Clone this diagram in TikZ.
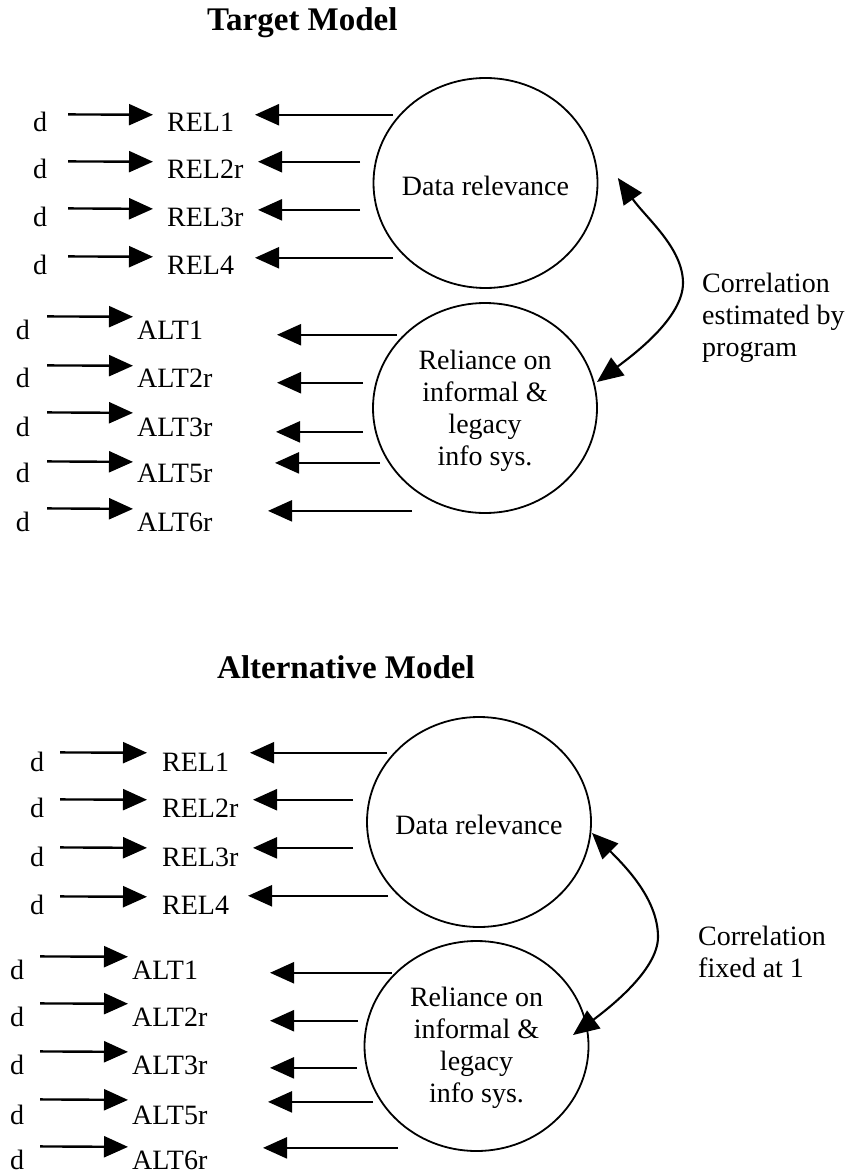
\documentclass[tikz,border=0pt]{standalone}
\usepackage{fontspec}
\setmainfont{Liberation Serif}
\usetikzlibrary{arrows.meta,shapes.geometric}
\begin{document}
\begin{tikzpicture}[x=1pt,y=1pt,
  txt/.style={inner sep=0pt, font=\fontsize{28}{32}\selectfont},
  ttl/.style={inner sep=0pt, anchor=base west, font=\fontsize{33}{38}\selectfont\bfseries},
  load/.style={line width=2.4pt, -{Triangle[length=24pt,width=21pt]}},
  latent/.style={draw, ellipse, line width=1.8pt, inner sep=0pt, minimum width=224pt, minimum height=210pt},
  corr/.style={line width=2.1pt, {Triangle[length=26pt,width=22pt]}-{Triangle[length=26pt,width=22pt]}}]
\useasboundingbox (0,0) rectangle (849,-1174);

% ================= Target model =================
\node[ttl] (titleT) at (207,-31) {Target Model};

\node[latent] (relevT) at (485.5,-183) {};
\node[txt] (relevTt) at ([yshift=-3]relevT.center) {Data relevance};
\node[latent] (legacyT) at (485,-408) {};
\node[txt, align=center] (legacyTt) at ([yshift=-3]legacyT.center) {Reliance on\\informal \&\\legacy\\info sys.};

% relevance indicators
\foreach \i/\yb/\lab/\dl/\dr/\tl/\g in {
  1/-132/REL1/8/8/226/88,
  2/-179/REL2r/8/8/193/91,
  3/-226/REL3r/8/7/193/91,
  4/-274/REL4/8/7/226/88}{
  \node[txt, anchor=base] (dTr\i) at (40,\yb) {d};
  \node[txt, anchor=base west] (vTr\i) at (167,\yb) {\lab};
  \draw[load] ([shift={(21,\dl)}]dTr\i.east) -- ([shift={(-14,\dl)}]vTr\i.west);
  \coordinate (tTr\i) at ([shift={(\tl,\dr)}]vTr\i.west);
  \draw[load] (tTr\i) -- ([shift={(\g,\dr)}]vTr\i.west);
}

% reliance indicators
\foreach \i/\yb/\lab/\dl/\dr/\tl/\g in {
  1/-339/ALT1/13/-5/260/140,
  2/-387/ALT2r/12/-5/226/140,
  3/-436/ALT3r/14/-5/226/139,
  4/-482/ALT5r/11/10/243/138,
  5/-531/ALT6r/13/11/275/131}{
  \node[txt, anchor=base] (dTa\i) at (23,\yb) {d};
  \node[txt, anchor=base west] (vTa\i) at (137,\yb) {\lab};
  \draw[load] ([shift={(17,\dl)}]dTa\i.east) -- ([shift={(-4,\dl)}]vTa\i.west);
  \coordinate (tTa\i) at ([shift={(\tl,\dr)}]vTa\i.west);
  \draw[load] (tTa\i) -- ([shift={(\g,\dr)}]vTa\i.west);
}

% estimated correlation
\coordinate (rT1) at ([shift={(19.5,5)}]relevT.east);
\coordinate (rT2) at ([shift={(112,26)}]legacyT.center);
\draw[corr] (rT1) .. controls (646,-218) and (683,-248) .. (683,-283)
                  .. controls (683,-318) and (633,-355) .. (rT2);
\node[txt, anchor=north west, align=left] (corrT) at (702,-273)
  {Correlation\\estimated by\\program};

% ================= Alternative model =================
\node[ttl] (titleB) at (217,-678) {Alternative Model};

\node[latent] (relevB) at (479,-822) {};
\node[txt] (relevBt) at ([yshift=-3]relevB.center) {Data relevance};
\node[latent] (legacyB) at (476.5,-1046) {};
\node[txt, align=center] (legacyBt) at ([yshift=-2]legacyB.center) {Reliance on\\informal \&\\legacy\\info sys.};

\foreach \i/\yb/\lab/\dl/\dr/\tl/\g in {
  1/-771/REL1/9/9/225/88,
  2/-817/REL2r/8/8/191/91,
  3/-866/REL3r/9/9/191/91,
  4/-914/REL4/8/9/226/86}{
  \node[txt, anchor=base] (dBr\i) at (37,\yb) {d};
  \node[txt, anchor=base west] (vBr\i) at (162,\yb) {\lab};
  \draw[load] ([shift={(16,\dl)}]dBr\i.east) -- ([shift={(-15,\dl)}]vBr\i.west);
  \coordinate (tBr\i) at ([shift={(\tl,\dr)}]vBr\i.west);
  \draw[load] (tBr\i) -- ([shift={(\g,\dr)}]vBr\i.west);
}

\foreach \i/\yb/\lab/\dl/\dr/\tl/\g in {
  1/-979/ALT1/13/-3/260/138,
  2/-1026/ALT2r/13/-4/226/138,
  3/-1074/ALT3r/13/-3/225/138,
  4/-1124/ALT5r/15/13/241/136,
  5/-1169/ALT6r/13/12/266/131}{
  \node[txt, anchor=base] (dBa\i) at (17,\yb) {d};
  \node[txt, anchor=base west] (vBa\i) at (132,\yb) {\lab};
  \draw[load] ([shift={(16,\dl)}]dBa\i.east) -- ([shift={(-4,\dl)}]vBa\i.west);
  \coordinate (tBa\i) at ([shift={(\tl,\dr)}]vBa\i.west);
  \draw[load] (tBa\i) -- ([shift={(\g,\dr)}]vBa\i.west);
}

% correlation fixed at one
\coordinate (rB1) at ([shift={(113,-11)}]relevB.center);
\coordinate (rB2) at ([shift={(96.5,11)}]legacyB.center);
\draw[corr] (rB1) .. controls (627,-868) and (658,-900) .. (658,-937)
                  .. controls (658,-970) and (609,-1008) .. (rB2);
\node[txt, anchor=north west, align=left] (corrB) at (698,-926)
  {Correlation\\fixed at 1};
\end{tikzpicture}
\end{document}
